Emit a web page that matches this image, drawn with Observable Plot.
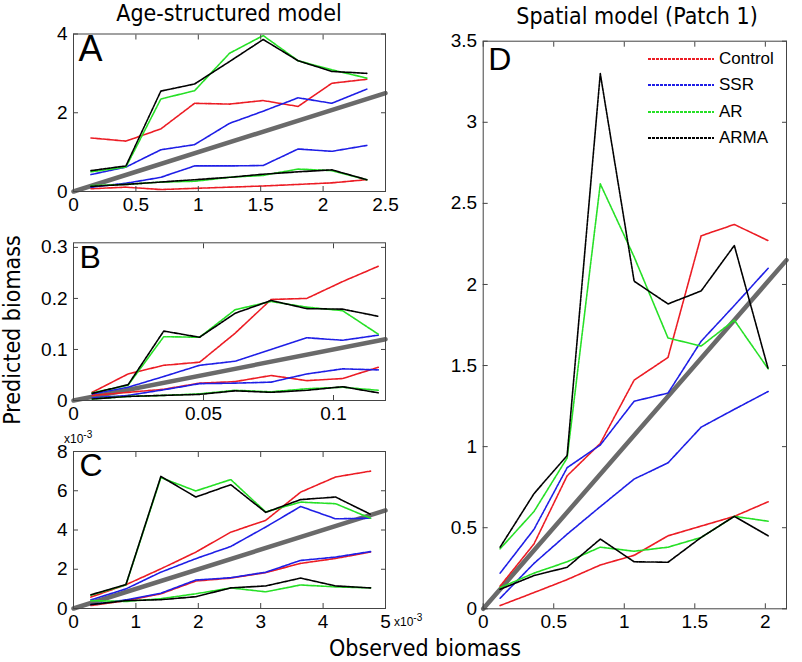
<!DOCTYPE html>
<html><head><meta charset="utf-8">
<script src="https://cdn.jsdelivr.net/npm/d3@7"></script>
<script src="https://cdn.jsdelivr.net/npm/@observablehq/plot@0.6"></script>
<style>
body{margin:0;background:#fff;}
#fig{position:relative;width:802px;height:662px;overflow:hidden;font-family:"Liberation Sans",Arial,sans-serif;background:#fff;}
.abs{position:absolute;}
.ttl{font-family:"DejaVu Sans Condensed","DejaVu Sans",sans-serif;font-stretch:condensed;font-size:23px;line-height:1.1;color:#000;white-space:nowrap;}
.sm{font-family:"Liberation Sans",Arial,sans-serif;font-size:12px;line-height:1.2;color:#000;white-space:nowrap;}
</style></head><body><div id="fig"></div>
<script>
const modelNames = ["Control", "SSR", "AR", "ARMA"];
const modelColors = ["#ec1c24", "#1e1ee6", "#26e026", "#000000"];

// Panel A: Age-structured model
const aX = [0.14, 0.42, 0.70, 0.97, 1.25, 1.52, 1.80, 2.07, 2.35];
const aControlHi = [1.36, 1.28, 1.59, 2.24, 2.22, 2.31, 2.16, 2.75, 2.85];
const aControlLo = [0.07, 0.11, 0.05, 0.08, 0.11, 0.14, 0.18, 0.22, 0.30];
const aSSRHi = [0.43, 0.62, 1.06, 1.19, 1.73, 2.04, 2.38, 2.24, 2.60];
const aSSRLo = [0.11, 0.21, 0.36, 0.65, 0.65, 0.66, 1.08, 1.02, 1.17];
const aARHi = [0.50, 0.62, 2.35, 2.56, 3.51, 3.96, 3.32, 3.09, 2.88];
const aARLo = [0.15, 0.18, 0.24, 0.26, 0.36, 0.41, 0.57, 0.53, 0.30];
const aARMAHi = [0.53, 0.65, 2.55, 2.73, 3.30, 3.86, 3.32, 3.05, 3.00];
const aARMALo = [0.13, 0.18, 0.24, 0.30, 0.36, 0.44, 0.50, 0.55, 0.30];

// Panel B
const bX = [0.0072, 0.021, 0.0347, 0.0485, 0.0622, 0.076, 0.0897, 0.1035, 0.1172];
const bControlHi = [0.016, 0.052, 0.069, 0.075, 0.132, 0.198, 0.200, 0.233, 0.263];
const bControlLo = [0.010, 0.016, 0.022, 0.034, 0.037, 0.049, 0.039, 0.043, 0.065];
const bSSRHi = [0.013, 0.026, 0.047, 0.069, 0.077, 0.100, 0.123, 0.118, 0.128];
const bSSRLo = [0.005, 0.010, 0.021, 0.033, 0.034, 0.036, 0.052, 0.062, 0.060];
const bARHi = [0.015, 0.030, 0.125, 0.124, 0.178, 0.194, 0.183, 0.176, 0.130];
const bARLo = [0.003, 0.008, 0.010, 0.013, 0.020, 0.017, 0.023, 0.026, 0.020];
const bARMAHi = [0.014, 0.031, 0.136, 0.124, 0.171, 0.196, 0.180, 0.179, 0.165];
const bARMALo = [0.003, 0.008, 0.010, 0.012, 0.019, 0.016, 0.020, 0.027, 0.015];

// Panel C (values x 10^-3)
const cX = [0.28, 0.84, 1.40, 1.96, 2.52, 3.08, 3.64, 4.20, 4.76];
const cControlHi = [0.58, 1.21, 2.02, 2.87, 3.89, 4.49, 5.93, 6.70, 7.00];
const cControlLo = [0.15, 0.40, 0.75, 1.40, 1.55, 1.83, 2.30, 2.55, 2.88];
const cSSRHi = [0.44, 1.00, 1.85, 2.54, 3.16, 4.15, 5.20, 4.57, 4.60];
const cSSRLo = [0.20, 0.44, 0.78, 1.45, 1.57, 1.85, 2.45, 2.62, 2.90];
const cARHi = [0.68, 1.20, 6.67, 5.99, 6.57, 4.92, 5.42, 5.34, 4.60];
const cARLo = [0.40, 0.36, 0.50, 0.75, 1.05, 0.85, 1.20, 1.10, 1.05];
const cARMAHi = [0.70, 1.22, 6.73, 5.68, 6.31, 4.90, 5.55, 5.68, 4.80];
const cARMALo = [0.20, 0.40, 0.45, 0.60, 1.05, 1.15, 1.55, 1.15, 1.05];

// Panel D: Spatial model (Patch 1)
const dX = [0.12, 0.36, 0.595, 0.83, 1.07, 1.31, 1.545, 1.78, 2.02];
const dControlHi = [0.14, 0.40, 0.82, 1.02, 1.41, 1.55, 2.30, 2.37, 2.27];
const dControlLo = [0.02, 0.10, 0.18, 0.27, 0.33, 0.45, 0.51, 0.57, 0.66];
const dSSRHi = [0.22, 0.49, 0.87, 1.01, 1.28, 1.33, 1.65, 1.87, 2.10];
const dSSRLo = [0.065, 0.28, 0.46, 0.63, 0.80, 0.90, 1.12, 1.23, 1.34];
const dARHi = [0.37, 0.60, 0.93, 2.62, 2.17, 1.67, 1.62, 1.78, 1.48];
const dARLo = [0.13, 0.22, 0.29, 0.38, 0.355, 0.38, 0.44, 0.57, 0.54];
const dARMAHi = [0.38, 0.71, 0.945, 3.30, 2.02, 1.88, 1.96, 2.24, 1.48];
const dARMALo = [0.12, 0.205, 0.256, 0.43, 0.29, 0.287, 0.44, 0.57, 0.45];

// axis domains and ticks
const aXDomain = [0, 2.5], aYDomain = [0, 4];
const aXTicks = [0, 0.5, 1, 1.5, 2, 2.5], aYTicks = [0, 2, 4];
const bXDomain = [0, 0.12], bYDomain = [0, 0.309];
const bXTicks = [0, 0.05, 0.1], bYTicks = [0, 0.1, 0.2, 0.3];
const cXDomain = [0, 5], cYDomain = [0, 8];
const cXTicks = [0, 1, 2, 3, 4, 5], cYTicks = [0, 2, 4, 6, 8];
const dXDomain = [0, 2.15], dYDomain = [0, 3.5];
const dXTicks = [0, 0.5, 1, 1.5, 2], dYTicks = [0, 0.5, 1, 1.5, 2, 2.5, 3, 3.5];

function rows(x, series) {
  const out = [];
  series.forEach(([m, hi, lo]) => {
    hi.forEach((v, i) => out.push({x: x[i], y: v, model: m, key: m + "-hi"}));
    lo.forEach((v, i) => out.push({x: x[i], y: v, model: m, key: m + "-lo"}));
  });
  return out;
}

const fig = document.getElementById("fig");

function panel(o) {
  const [x0, y0, x1, y1] = o.frame, [L, T, W, H] = o.box;
  const fmt = d => String(d);
  const ident = [o.xDomain[0], o.xDomain[1]].map(v => ({x: v, y: v}));
  const plot = Plot.plot({
    width: W, height: H,
    marginLeft: x0 - L, marginTop: y0 - T, marginRight: L + W - x1, marginBottom: T + H - y1,
    x: {domain: o.xDomain, label: null},
    y: {domain: o.yDomain, label: null},
    color: {domain: modelNames, range: modelColors},
    style: {fontFamily: "'Liberation Sans', Arial, sans-serif", fontSize: "19px", color: "#000", background: "transparent", overflow: "visible"},
    marks: [
      Plot.line(ident, {x: "x", y: "y", stroke: "#6a6a6a", strokeWidth: 4.5}),
      Plot.line(o.data, {x: "x", y: "y", z: "key", stroke: "model", strokeWidth: 1.6, strokeDasharray: "3,1"}),
      Plot.frame({stroke: "#444", strokeWidth: 1}),
      Plot.axisX({anchor: "bottom", ticks: o.xTicks, tickSize: -5, tickPadding: 11, tickFormat: fmt, label: null, stroke: "#444"}),
      Plot.axisX({anchor: "top", ticks: o.xTicks, tickSize: -5, tickFormat: () => "", label: null, stroke: "#444"}),
      Plot.axisY({anchor: "left", ticks: o.yTicks, tickSize: -5, tickPadding: 11, tickFormat: fmt, label: null, stroke: "#444"}),
      Plot.axisY({anchor: "right", ticks: o.yTicks, tickSize: -5, tickFormat: () => "", label: null, stroke: "#444"}),
      Plot.text([o.letter], {text: d => d, frameAnchor: "top-left", dx: o.ldx, dy: o.ldy, fontSize: o.lsize, textAnchor: "start", lineAnchor: "top"})
    ]
  });
  const wrap = document.createElement("div");
  wrap.className = "abs";
  wrap.style.left = L + "px";
  wrap.style.top = T + "px";
  wrap.appendChild(plot);
  fig.appendChild(wrap);
}

panel({letter: "A", frame: [73, 33.5, 385, 191], box: [0, 20, 400, 205], xDomain: aXDomain, yDomain: aYDomain, xTicks: aXTicks, yTicks: aYTicks, lsize: 36, ldx: 5, ldy: 1,
  data: rows(aX, [["Control", aControlHi, aControlLo], ["SSR", aSSRHi, aSSRLo], ["AR", aARHi, aARLo], ["ARMA", aARMAHi, aARMALo]])});
panel({letter: "B", frame: [73, 242.3, 385, 400], box: [0, 228, 400, 202], xDomain: bXDomain, yDomain: bYDomain, xTicks: bXTicks, yTicks: bYTicks, lsize: 32, ldx: 6, ldy: 2,
  data: rows(bX, [["Control", bControlHi, bControlLo], ["SSR", bSSRHi, bSSRLo], ["AR", bARHi, bARLo], ["ARMA", bARMAHi, bARMALo]])});
panel({letter: "C", frame: [73, 451, 385, 608], box: [0, 436, 400, 214], xDomain: cXDomain, yDomain: cYDomain, xTicks: cXTicks, yTicks: cYTicks, lsize: 32, ldx: 6, ldy: 2,
  data: rows(cX, [["Control", cControlHi, cControlLo], ["SSR", cSSRHi, cSSRLo], ["AR", cARHi, cARLo], ["ARMA", cARMAHi, cARMALo]])});
panel({letter: "D", frame: [482.7, 40.7, 786, 608.3], box: [420, 25, 382, 625], xDomain: dXDomain, yDomain: dYDomain, xTicks: dXTicks, yTicks: dYTicks, lsize: 32, ldx: 5, ldy: 6,
  data: rows(dX, [["Control", dControlHi, dControlLo], ["SSR", dSSRHi, dSSRLo], ["AR", dARHi, dARLo], ["ARMA", dARMAHi, dARMALo]])});

function addText(html, cls, css) {
  const d = document.createElement("div");
  d.className = "abs " + cls;
  d.innerHTML = html;
  Object.assign(d.style, css);
  fig.appendChild(d);
  return d;
}
addText("Age-structured model", "ttl", {left: "229px", top: "1px", transform: "translateX(-50%)"});
addText("Spatial model (Patch 1)", "ttl", {left: "637px", top: "4px", transform: "translateX(-50%)"});
addText("Observed biomass", "ttl", {left: "425px", top: "636px", transform: "translateX(-50%)"});
addText("Predicted biomass", "ttl", {left: "13px", top: "330px", transform: "translate(-50%,-50%) rotate(-90deg)"});
addText("x10<sup style='font-size:10px'>-3</sup>", "sm", {left: "64px", top: "429px"});
addText("x10<sup style='font-size:10px'>-3</sup>", "sm", {left: "394px", top: "612px"});

// legend
const leg = addText("", "", {left: "646px", top: "46px"});
modelNames.forEach((m, i) => {
  const row = document.createElement("div");
  row.style.cssText = "display:flex;align-items:center;height:26.3px;font-family:'Liberation Sans',Arial,sans-serif;font-size:17px;";
  row.innerHTML = `<svg width="70" height="10"><line x1="2" x2="68" y1="5" y2="5" stroke="${modelColors[i]}" stroke-width="1.8" stroke-dasharray="3,1"/></svg><span style="margin-left:3px">${m}</span>`;
  leg.appendChild(row);
});
</script></body></html>
